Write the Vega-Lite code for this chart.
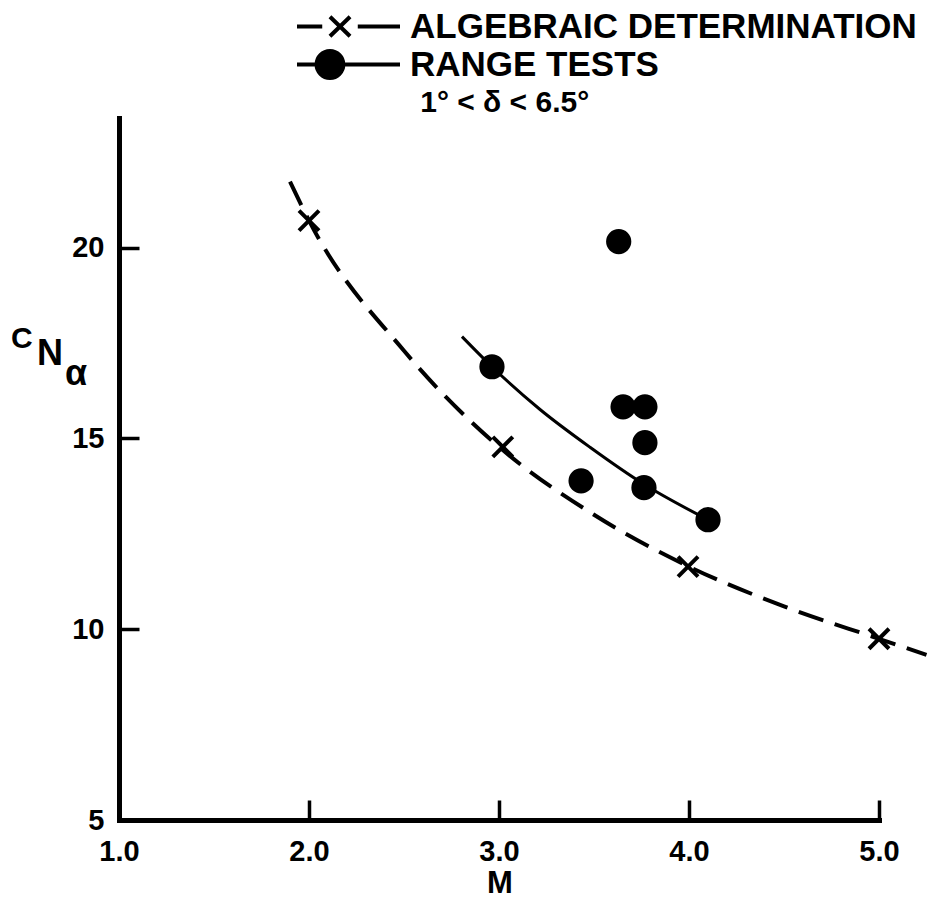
{
  "$schema": "https://vega.github.io/schema/vega-lite/v6.json",
  "width": 760,
  "height": 702,
  "autosize": {"type": "none"},
  "padding": {"left": 119, "top": 118, "right": 52, "bottom": 86},
  "background": "white",
  "config": {
    "view": {"stroke": null},
    "font": "Liberation Sans",
    "axis": {
      "grid": false,
      "domainColor": "black",
      "domainWidth": 5,
      "domainCap": "square",
      "tickColor": "black",
      "tickWidth": 3.5,
      "tickSize": -20,
      "labelFont": "Liberation Sans",
      "labelFontSize": 29,
      "labelFontWeight": "bold",
      "labelColor": "black",
      "labelFlush": false,
      "labelOverlap": false
    }
  },
  "datasets": {
    "algCurve": [
      {"M": 1.9, "C": 21.73},
      {"M": 2.0, "C": 20.71},
      {"M": 2.5, "C": 17.3},
      {"M": 3.0, "C": 14.78},
      {"M": 3.5, "C": 13.0},
      {"M": 4.0, "C": 11.64},
      {"M": 4.5, "C": 10.6},
      {"M": 5.0, "C": 9.75},
      {"M": 5.25, "C": 9.33}
    ],
    "rangeCurve": [
      {"M": 2.805, "C": 17.67},
      {"M": 2.963, "C": 16.88},
      {"M": 3.216, "C": 15.76},
      {"M": 3.479, "C": 14.77},
      {"M": 3.763, "C": 13.8},
      {"M": 4.1, "C": 12.87}
    ],
    "algebraic": [
      {"series": "ALGEBRAIC DETERMINATION", "M": 2.0, "C": 20.71},
      {"series": "ALGEBRAIC DETERMINATION", "M": 3.02, "C": 14.78},
      {"series": "ALGEBRAIC DETERMINATION", "M": 3.995, "C": 11.64},
      {"series": "ALGEBRAIC DETERMINATION", "M": 5.0, "C": 9.75}
    ],
    "range": [
      {"series": "RANGE TESTS", "M": 3.63, "C": 20.16},
      {"series": "RANGE TESTS", "M": 2.963, "C": 16.88},
      {"series": "RANGE TESTS", "M": 3.653, "C": 15.83},
      {"series": "RANGE TESTS", "M": 3.768, "C": 15.83},
      {"series": "RANGE TESTS", "M": 3.768, "C": 14.89},
      {"series": "RANGE TESTS", "M": 3.432, "C": 13.89},
      {"series": "RANGE TESTS", "M": 3.763, "C": 13.71},
      {"series": "RANGE TESTS", "M": 4.1, "C": 12.87}
    ]
  },
  "layer": [
    {
      "data": {"name": "algCurve"},
      "mark": {"type": "line", "interpolate": "monotone", "strokeDash": [26, 12], "strokeWidth": 4, "color": "black"},
      "encoding": {
        "x": {
          "field": "M", "type": "quantitative",
          "scale": {"domain": [1, 5], "nice": false, "zero": false},
          "axis": {"values": [1, 2, 3, 4, 5], "format": ".1f", "title": null, "labelPadding": 37}
        },
        "y": {
          "field": "C", "type": "quantitative",
          "scale": {"domain": [5, 23.4], "nice": false, "zero": false},
          "axis": {"values": [5, 10, 15, 20], "title": null, "labelPadding": 35}
        }
      }
    },
    {
      "data": {"name": "rangeCurve"},
      "mark": {"type": "line", "interpolate": "monotone", "strokeWidth": 3, "color": "black"},
      "encoding": {
        "x": {"field": "M", "type": "quantitative"},
        "y": {"field": "C", "type": "quantitative"}
      }
    },
    {
      "data": {"name": "algebraic"},
      "mark": {"type": "point", "shape": "M-1,-1L1,1M-1,1L1,-1", "size": 400, "filled": false, "strokeWidth": 4, "opacity": 1},
      "encoding": {
        "x": {"field": "M", "type": "quantitative"},
        "y": {"field": "C", "type": "quantitative"},
        "color": {
          "field": "series", "type": "nominal",
          "scale": {"domain": ["ALGEBRAIC DETERMINATION"], "range": ["black"]},
          "legend": {
            "orient": "none", "legendX": 176, "legendY": -145, "title": null, "padding": 0,
            "symbolType": "M-1,0L-0.51,0M0.18,0L1,0M-0.36,-0.19L0.03,0.19M-0.36,0.19L0.03,-0.19",
            "symbolSize": 10609, "symbolStrokeWidth": 4,
            "labelFont": "Liberation Sans", "labelFontSize": 35, "labelFontWeight": "bold", "labelColor": "black", "labelOffset": 8, "labelLimit": 700,
            "encode": {"symbols": {"update": {"stroke": {"value": "black"}, "fill": {"value": "black"}, "strokeWidth": {"value": 4}, "opacity": {"value": 1}}}}
          }
        }
      }
    },
    {
      "data": {"name": "range"},
      "mark": {"type": "point", "shape": "circle", "size": 540, "filled": false, "fill": "black", "fillOpacity": 1, "strokeWidth": 2, "opacity": 1},
      "encoding": {
        "x": {"field": "M", "type": "quantitative"},
        "y": {"field": "C", "type": "quantitative"},
        "color": {
          "field": "series", "type": "nominal",
          "scale": {"domain": ["RANGE TESTS"], "range": ["black"]},
          "legend": {
            "orient": "none", "legendX": 176, "legendY": -107, "title": null, "padding": 0,
            "symbolType": "M-1,0L1,0M-0.1,0A0.26,0.26 0 1,1 -0.62,0A0.26,0.26 0 1,1 -0.1,0Z",
            "symbolSize": 10609, "symbolStrokeWidth": 4,
            "labelFont": "Liberation Sans", "labelFontSize": 35, "labelFontWeight": "bold", "labelColor": "black", "labelOffset": 8, "labelLimit": 700,
            "encode": {"symbols": {"update": {"stroke": {"value": "black"}, "fill": {"value": "black"}, "strokeWidth": {"value": 4}, "opacity": {"value": 1}}}}
          }
        }
      }
    },
    {
      "data": {"values": [{}]},
      "mark": {"type": "text", "text": "C", "font": "Liberation Sans", "fontSize": 30, "fontWeight": "bold", "color": "black", "align": "center", "baseline": "alphabetic"},
      "encoding": {
        "x": {"datum": 0.489, "type": "quantitative"},
        "y": {"datum": 17.38, "type": "quantitative"}
      }
    },
    {
      "data": {"values": [{}]},
      "mark": {"type": "text", "text": "N", "font": "Liberation Sans", "fontSize": 36, "fontWeight": "bold", "color": "black", "align": "center", "baseline": "alphabetic"},
      "encoding": {
        "x": {"datum": 0.637, "type": "quantitative"},
        "y": {"datum": 16.93, "type": "quantitative"}
      }
    },
    {
      "data": {"values": [{}]},
      "mark": {"type": "text", "text": "α", "font": "Liberation Sans", "fontSize": 36, "fontWeight": "bold", "color": "black", "align": "center", "baseline": "alphabetic"},
      "encoding": {
        "x": {"datum": 0.774, "type": "quantitative"},
        "y": {"datum": 16.41, "type": "quantitative"}
      }
    },
    {
      "data": {"values": [{}]},
      "mark": {"type": "text", "text": "M", "font": "Liberation Sans", "fontSize": 31, "fontWeight": "bold", "color": "black", "align": "center", "baseline": "alphabetic"},
      "encoding": {
        "x": {"datum": 3.005, "type": "quantitative"},
        "y": {"datum": 3.09, "type": "quantitative"}
      }
    },
    {
      "data": {"values": [{}]},
      "mark": {"type": "text", "text": "1° < δ < 6.5°", "font": "Liberation Sans", "fontSize": 30, "fontWeight": "bold", "color": "black", "align": "center", "baseline": "alphabetic"},
      "encoding": {
        "x": {"datum": 3.03, "type": "quantitative"},
        "y": {"datum": 23.57, "type": "quantitative"}
      }
    }
  ],
  "resolve": {"scale": {"color": "independent"}, "legend": {"color": "independent"}}
}
